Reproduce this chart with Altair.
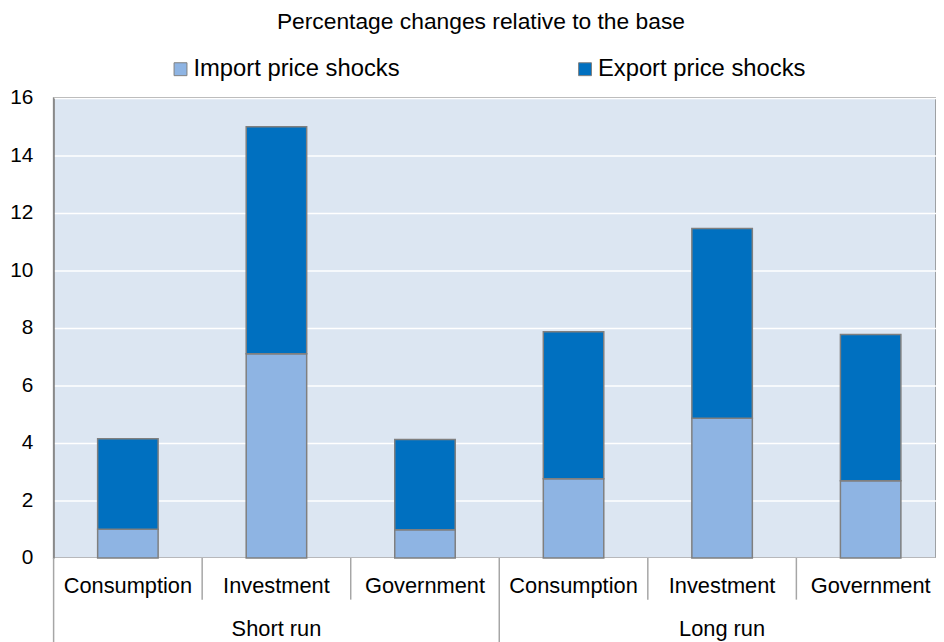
import altair as alt
import pandas as pd

# ---- data ----
groups = ["Short run", "Short run", "Short run", "Long run", "Long run", "Long run"]
categories = ["Consumption", "Investment", "Government", "Consumption", "Investment", "Government"]
series_names = ["Import price shocks", "Export price shocks"]
import_shocks = [1.0, 7.1, 0.98, 2.76, 4.86, 2.69]
export_shocks = [3.15, 7.9, 3.14, 5.11, 6.6, 5.08]
y_ticks = [0, 2, 4, 6, 8, 10, 12, 14, 16]
title_text = "Percentage changes relative to the base"

# ---- styling ----
FONT = "Liberation Sans"
C_IMPORT = "#8EB4E3"
C_EXPORT = "#0070C0"
BG = "#DCE6F2"
GRAY = "#8A8A8A"
W, H = 890, 464
XRANGE = 899
STEP = XRANGE / len(categories)

keys = [f"{g}|{c}" for g, c in zip(groups, categories)]

rows = []
for k, g, c, imp, exp in zip(keys, groups, categories, import_shocks, export_shocks):
    rows.append({"key": k, "series": series_names[0], "value": imp, "ord": 0})
    rows.append({"key": k, "series": series_names[1], "value": exp, "ord": 1})
bar_df = pd.DataFrame(rows)

lab_df = pd.DataFrame({"key": keys, "category": categories})

# group label sits at the middle category of each group
grp_rows = []
for g in dict.fromkeys(groups):
    ks = [k for k, gg in zip(keys, groups) if gg == g]
    grp_rows.append({"key": ks[len(ks) // 2], "group": g})
grp_df = pd.DataFrame(grp_rows)

sep_group = pd.DataFrame({"key": [k for i, k in enumerate(keys) if i == 0 or groups[i] != groups[i - 1]]})
sep_tick = pd.DataFrame({"key": [k for i, k in enumerate(keys) if not (i == 0 or groups[i] != groups[i - 1])]})

pi = 1 - 61 / STEP
xscale = alt.Scale(domain=keys, range=[0, XRANGE], paddingInner=pi, paddingOuter=pi / 2)
xenc = alt.X("key:N", scale=xscale, axis=None, sort=keys)

bars = alt.Chart(bar_df).mark_bar(stroke="#7F7F7F", strokeWidth=1.5).encode(
    x=xenc,
    y=alt.Y("value:Q", stack="zero", title=None,
            scale=alt.Scale(domain=[0, 16], nice=False),
            axis=alt.Axis(values=y_ticks, grid=True, gridColor="white", gridWidth=1.5,
                          ticks=False, domain=True, domainColor=GRAY, domainWidth=1.5,
                          labelFont=FONT, labelFontSize=21, labelColor="black",
                          labelPadding=21)),
    color=alt.Color("series:N", sort=series_names,
                    scale=alt.Scale(domain=series_names, range=[C_IMPORT, C_EXPORT]),
                    legend=alt.Legend(orient="none", legendX=116, legendY=-41,
                                      direction="horizontal", title=None,
                                      symbolType="square", symbolSize=169,
                                      symbolStrokeColor="#7F7F7F", symbolStrokeWidth=1,
                                      symbolOpacity=1, labelLimit=400,
                                      labelFont=FONT, labelFontSize=24, labelColor="black",
                                      labelOffset=1, columnPadding=174)),
    order=alt.Order("ord:Q"),
)

cat_labels = alt.Chart(lab_df).mark_text(font=FONT, fontSize=22, baseline="middle", color="black").encode(
    x=xenc, y=alt.value(H + 28), text="category:N")

grp_labels = alt.Chart(grp_df).mark_text(font=FONT, fontSize=22, baseline="middle", color="black").encode(
    x=xenc, y=alt.value(H + 72), text="group:N")

tick_rules = alt.Chart(sep_tick).mark_rule(color="#A6A6A6", strokeWidth=1.5, xOffset=-STEP / 2).encode(
    x=xenc, y=alt.value(H), y2=alt.value(H + 42))

grp_rules = alt.Chart(sep_group).mark_rule(color="#A6A6A6", strokeWidth=1.5, xOffset=-STEP / 2).encode(
    x=xenc, y=alt.value(H), y2=alt.value(H + 90))

chart = alt.layer(bars, tick_rules, grp_rules, cat_labels, grp_labels).properties(
    width=W, height=H,
    title=alt.TitleParams(title_text, font=FONT, fontSize=23, fontWeight="normal",
                          color="black", anchor="middle", dx=-14, offset=24),
    autosize=alt.AutoSizeParams(type="none"),
    padding={"left": 46, "top": 88, "right": 0, "bottom": 82},
).configure_view(fill=BG, stroke=GRAY, strokeWidth=1.5)

chart.save("out.html", embed_options={"renderer": "svg", "actions": False})
